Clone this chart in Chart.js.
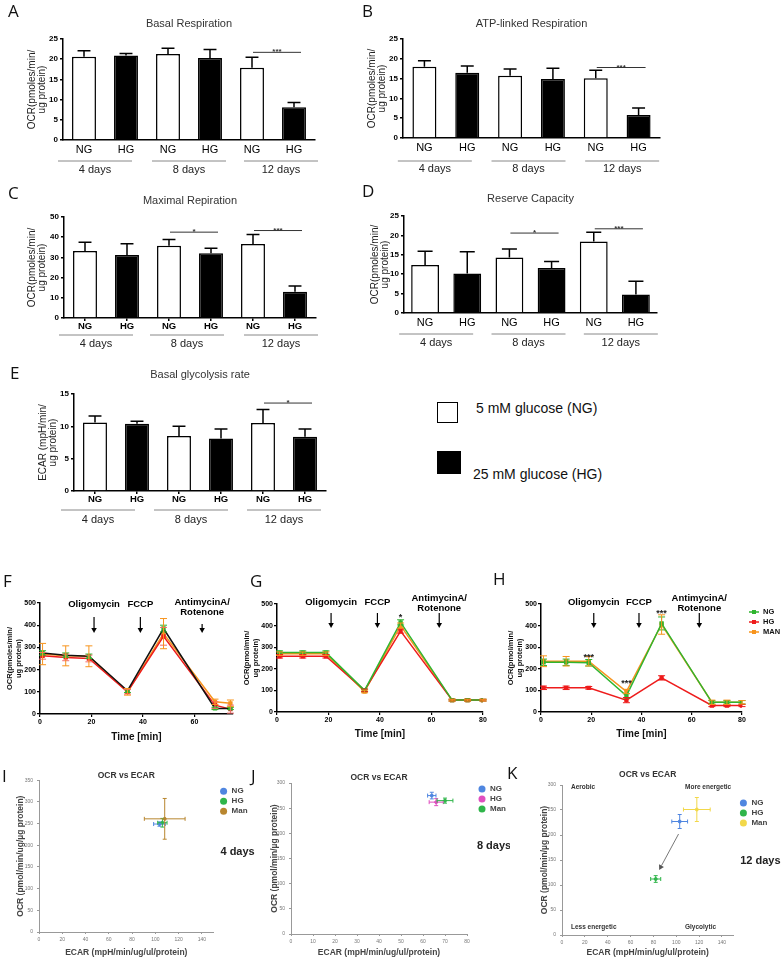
<!DOCTYPE html>
<html>
<head>
<meta charset="utf-8">
<script src="https://cdn.jsdelivr.net/npm/chart.js@4.4.1/dist/chart.umd.min.js"></script>
<style>
  body { margin: 0; background: #fff; }
  #page { position: relative; width: 783px; height: 961px; overflow: hidden; background: #fff; }
  canvas { position: absolute; }
  .tag { position: absolute; font-family: "Open Sans", sans-serif; font-size: 17px; line-height: 1; color: #111; }
  .key { position: absolute; font-family: "Liberation Sans", Arial, sans-serif; font-size: 14px; color: #111; white-space: nowrap; }
  .box { position: absolute; box-sizing: border-box; border: 1.5px solid #000; }
</style>
</head>
<body>
<div id="page">
  <canvas id="cA" width="350" height="180" style="left:0;top:0"></canvas>
  <canvas id="cB" width="433" height="180" style="left:350px;top:0"></canvas>
  <canvas id="cC" width="350" height="175" style="left:0;top:180px"></canvas>
  <canvas id="cD" width="433" height="175" style="left:350px;top:180px"></canvas>
  <canvas id="cE" width="350" height="180" style="left:0;top:355px"></canvas>
  <canvas id="cF" width="240" height="200" style="left:0;top:560px"></canvas>
  <canvas id="cG" width="260" height="200" style="left:240px;top:560px"></canvas>
  <canvas id="cH" width="283" height="200" style="left:500px;top:560px"></canvas>
  <canvas id="cI" width="268" height="201" style="left:0;top:760px"></canvas>
  <canvas id="cJ" width="260" height="201" style="left:250px;top:760px"></canvas>
  <canvas id="cK" width="273" height="201" style="left:510px;top:760px"></canvas>

  <div class="tag" style="left:8px;top:2px">A</div>
  <div class="tag" style="left:362px;top:2px">B</div>
  <div class="tag" style="left:8px;top:184px">C</div>
  <div class="tag" style="left:362px;top:182px">D</div>
  <div class="tag" style="left:10px;top:364px">E</div>
  <div class="tag" style="left:3px;top:572px">F</div>
  <div class="tag" style="left:250px;top:572px">G</div>
  <div class="tag" style="left:493px;top:570px">H</div>
  <div class="tag" style="left:2px;top:767px">I</div>
  <div class="tag" style="left:251px;top:767px">J</div>
  <div class="tag" style="left:507px;top:764px">K</div>

  <div class="box" style="left:437px;top:402px;width:21px;height:21px;background:#fff"></div>
  <div class="key" style="left:476px;top:400px">5 mM glucose (NG)</div>
  <div class="box" style="left:437px;top:451px;width:24px;height:23px;background:#000"></div>
  <div class="key" style="left:473px;top:466px">25 mM glucose (HG)</div>
</div>
<script>
'use strict';
const FONT = '"Liberation Sans", Arial, sans-serif';

// ---- A-E: bar panels ----
const barCats = ['NG', 'HG', 'NG', 'HG', 'NG', 'HG'];
const dayGroups = ['4 days', '8 days', '12 days'];
const basalResp = [20.6, 20.9, 21.3, 20.3, 17.9, 8.1];
const basalRespErr = [1.5, 0.5, 1.4, 2.1, 2.6, 1.2];
const atpResp = [18.0, 16.5, 15.7, 14.9, 15.1, 5.8];
const atpRespErr = [1.5, 1.7, 1.7, 2.7, 2.0, 1.8];
const maxResp = [33.2, 31.2, 35.8, 32.0, 36.6, 13.0];
const maxRespErr = [4.3, 5.6, 3.0, 2.5, 4.7, 2.8];
const reserveCap = [12.4, 10.2, 14.3, 11.6, 18.4, 4.8];
const reserveCapErr = [3.5, 5.6, 2.2, 1.7, 2.4, 3.4];
const glycoRate = [10.6, 10.4, 8.5, 8.1, 10.5, 8.4];
const glycoRateErr = [1.0, 0.4, 1.5, 1.5, 2.1, 1.2];
// significance: [bar, bar, level, stars]
const basalSig = [[4, 5, 21.7, '***']];
const atpSig = [[4, 5, 17.8, '***']];
const maxSig = [[2, 3, 42.5, '*'], [4, 5, 43.3, '***']];
const reserveSig = [[2, 3, 20.6, '*'], [4, 5, 21.7, '***']];
const glycoSig = [[4, 5, 13.6, '*']];

// ---- F-H: OCR time courses ----
const drugTimes = [21, 39, 63];
const drugNames = [['Oligomycin'], ['FCCP'], ['AntimycinA/', 'Rotenone']];
const fTime = [1, 10, 19, 34, 48, 68, 74];
const fNG = [275, 265, 260, 105, 385, 25, 25];
const fNGErr = [10, 10, 10, 8, 15, 5, 5];
const fHG = [262, 255, 250, 100, 350, 40, 22];
const fHGErr = [15, 15, 15, 10, 40, 15, 18];
const fMAN = [270, 262, 260, 100, 362, 55, 48];
const fMANErr = [48, 45, 47, 15, 68, 12, 15];
const gTime = [1, 10, 19, 34, 48, 68, 74, 80];
const gNG = [275, 275, 275, 100, 415, 55, 55, 55];
const gNGErr = [8, 8, 8, 6, 12, 4, 4, 4];
const gHG = [258, 258, 258, 100, 375, 55, 55, 55];
const gHGErr = [8, 8, 8, 6, 10, 4, 4, 4];
const gMAN = [270, 270, 270, 95, 400, 55, 55, 55];
const gMANErr = [8, 8, 8, 6, 12, 4, 4, 4];
const gStars = [[48, 450, '*']];
const hTime = [1, 10, 19, 34, 48, 68, 74, 80];
const hNG = [230, 230, 228, 75, 410, 45, 45, 45];
const hNGErr = [15, 15, 15, 10, 30, 8, 8, 8];
const hHG = [112, 112, 112, 55, 158, 30, 30, 30];
const hHGErr = [8, 8, 6, 12, 10, 5, 5, 5];
const hMAN = [235, 235, 235, 95, 405, 45, 45, 45];
const hMANErr = [25, 22, 22, 10, 45, 10, 10, 8];
const hStars = [[19, 268, '***'], [34, 145, '***'], [48, 468, '***']];

// ---- I-K: OCR vs ECAR (NG, HG, Man) ----
const scatterNames = ['NG', 'HG', 'Man'];
const day4Ecar = [103.5, 106, 108];
const day4EcarErr = [5, 4, 17.5];
const day4Ocr = [249, 252, 261];
const day4OcrErr = [5, 10, 47];
const day8Ecar = [64, 66, 70];
const day8EcarErr = [1.9, 3.2, 3.6];
const day8Ocr = [275, 262, 265];
const day8OcrErr = [6.6, 7, 5];
const day12Ecar = [103, 82, 118];
const day12EcarErr = [6.9, 4.4, 11.7];
const day12Ocr = [227, 112, 251];
const day12OcrErr = [14, 6.7, 24];
const day12Shift = [102, 202, 85, 130]; // arrow NG -> HG (ECAR, OCR)

const el = id => document.getElementById(id);

function arrowTo(ctx, x1, y1, x2, y2, head) {
  const a = Math.atan2(y2 - y1, x2 - x1);
  const bx = x2 - head * Math.cos(a), by = y2 - head * Math.sin(a);
  ctx.beginPath(); ctx.moveTo(x1, y1); ctx.lineTo(bx, by); ctx.stroke();
  ctx.beginPath();
  ctx.moveTo(x2, y2);
  ctx.lineTo(bx + head * 0.55 * Math.sin(a), by - head * 0.55 * Math.cos(a));
  ctx.lineTo(bx - head * 0.55 * Math.sin(a), by + head * 0.55 * Math.cos(a));
  ctx.closePath(); ctx.fill();
}

// error bars, significance bars and day groups under the bar panels
const barExtras = {
  id: 'barExtras',
  afterDatasetsDraw(chart, args, opts) {
    const {ctx} = chart;
    const ys = chart.scales.y;
    const ds = chart.data.datasets[0];
    const bars = chart.getDatasetMeta(0).data;
    ctx.save();
    ctx.strokeStyle = '#000';
    ctx.lineWidth = 1.5;
    bars.forEach((b, i) => {
      const top = ys.getPixelForValue(ds.data[i] + ds.err[i]);
      const hw = b.width * 0.27;
      ctx.beginPath();
      ctx.moveTo(b.x, b.y); ctx.lineTo(b.x, top);
      ctx.moveTo(b.x - hw, top); ctx.lineTo(b.x + hw, top);
      ctx.stroke();
    });
    ctx.lineWidth = 1;
    ctx.strokeStyle = '#333';
    ctx.fillStyle = '#333';
    ctx.font = 'bold 8px ' + FONT;
    ctx.textAlign = 'center';
    ctx.textBaseline = 'alphabetic';
    opts.sig.forEach(([a, b, v, s]) => {
      const x1 = bars[a].x + 1, x2 = bars[b].x + 7, y = ys.getPixelForValue(v);
      ctx.beginPath(); ctx.moveTo(x1, y); ctx.lineTo(x2, y); ctx.stroke();
      ctx.fillText(s, (x1 + x2) / 2, y + 2);
    });
    const base = chart.chartArea.bottom;
    ctx.strokeStyle = '#888';
    ctx.fillStyle = '#222';
    ctx.font = '11px ' + FONT;
    ctx.textBaseline = 'middle';
    dayGroups.forEach((d, g) => {
      const mid = (bars[2 * g].x + bars[2 * g + 1].x) / 2 + opts.shift[g];
      ctx.beginPath();
      ctx.moveTo(mid - 37, base + opts.lineOff);
      ctx.lineTo(mid + 37, base + opts.lineOff);
      ctx.stroke();
      ctx.fillText(d, mid, base + opts.daysOff);
    });
    ctx.restore();
  }
};

function barPanel(id, box, area, o) {
  const [cx, cy, cw, ch] = box;
  const L = area[0] - cx, T = area[1] - cy, R = area[2] - cx, B = area[3] - cy;
  const th = 11 * 1.2;
  const padTop = o.titleY - cy - th / 2;
  new Chart(el(id), {
    type: 'bar',
    data: {
      labels: barCats,
      datasets: [{
        data: o.values,
        err: o.err,
        backgroundColor: barCats.map(c => c === 'NG' ? '#fff' : '#000'),
        borderColor: '#000',
        borderWidth: 1.5,
        barPercentage: o.barPct,
        categoryPercentage: 1
      }]
    },
    options: {
      responsive: false, animation: false, events: [],
      layout: {padding: {left: 0, top: padTop, right: cw - R, bottom: 0}},
      plugins: {
        legend: {display: false},
        tooltip: {enabled: false},
        title: {
          display: true, text: o.title, fullSize: false, color: '#333',
          font: {family: FONT, size: 11, weight: 'normal', lineHeight: 1.2},
          padding: {top: 0, bottom: T - padTop - th}
        },
        barExtras: {sig: o.sig, shift: o.shift, lineOff: o.lineOff, daysOff: o.daysOff}
      },
      scales: {
        x: {
          grid: {display: o.xTicks, drawOnChartArea: false, drawTicks: o.xTicks, tickLength: 3, offset: false, color: '#000', lineWidth: 1.5},
          border: {display: true, color: '#000', width: 1.5},
          ticks: {color: '#000', padding: o.xPad, font: {family: FONT, size: o.xFont, weight: o.xBold ? 'bold' : 'normal'}},
          afterFit: s => { s.height = ch - B; }
        },
        y: {
          min: 0, max: o.max,
          ticks: {stepSize: o.step, color: '#000', padding: 2, font: {family: FONT, size: 8, weight: 'bold'}},
          grid: {drawOnChartArea: false, tickLength: 3, color: '#000', lineWidth: 1.5},
          border: {color: '#000', width: 1.5},
          title: {
            display: true, text: o.yTitle, color: '#222',
            font: {family: FONT, size: 10, lineHeight: 1.05},
            padding: {top: o.yTitleX - cx - 5.25, bottom: 0}
          },
          afterFit: s => { s.width = L; }
        }
      }
    },
    plugins: [barExtras]
  });
}

const ocrTitle = ['OCR(pmoles/min/', 'ug protein)'];
barPanel('cA', [0, 0, 350, 180], [63, 39, 315, 140], {
  title: 'Basal Respiration', titleY: 24, yTitle: ocrTitle, yTitleX: 32,
  values: basalResp, err: basalRespErr, sig: basalSig, max: 25, step: 5, barPct: 0.57,
  xFont: 11, xBold: false, xTicks: false, xPad: 3, shift: [-10, 0, 8], lineOff: 21, daysOff: 30
});
barPanel('cB', [350, 0, 433, 180], [403, 39, 660, 138], {
  title: 'ATP-linked Respiration', titleY: 24, yTitle: ocrTitle, yTitleX: 372,
  values: atpResp, err: atpRespErr, sig: atpSig, max: 25, step: 5, barPct: 0.56,
  xFont: 11, xBold: false, xTicks: false, xPad: 3, shift: [-11, -3, 5], lineOff: 23, daysOff: 31
});
barPanel('cC', [0, 180, 350, 175], [64, 217, 316, 318], {
  title: 'Maximal Repiration', titleY: 201, yTitle: ocrTitle, yTitleX: 32,
  values: maxResp, err: maxRespErr, sig: maxSig, max: 50, step: 10, barPct: 0.57,
  xFont: 9.5, xBold: true, xTicks: true, xPad: 0, shift: [-10, -3, 7], lineOff: 17, daysOff: 26
});
barPanel('cD', [350, 180, 433, 175], [404, 216, 657, 313], {
  title: 'Reserve Capacity', titleY: 199, yTitle: ocrTitle, yTitleX: 375,
  values: reserveCap, err: reserveCapErr, sig: reserveSig, max: 25, step: 5, barPct: 0.66,
  xFont: 11, xBold: false, xTicks: false, xPad: 3, shift: [-10, -2, 6], lineOff: 21, daysOff: 30
});
barPanel('cE', [0, 355, 350, 180], [74, 394, 326, 491], {
  title: 'Basal glycolysis rate', titleY: 375, yTitle: ['ECAR (mpH/min/', 'ug protein)'], yTitleX: 43,
  values: glycoRate, err: glycoRateErr, sig: glycoSig, max: 15, step: 5, barPct: 0.57,
  xFont: 9.5, xBold: true, xTicks: true, xPad: 0, shift: [-18, -9, 0], lineOff: 19, daysOff: 29
});

// error bars for line and scatter charts
const errorBars = {
  id: 'errorBars',
  afterDatasetsDraw(chart) {
    const {ctx} = chart;
    const {x, y} = chart.scales;
    chart.data.datasets.forEach(ds => {
      ctx.save();
      ctx.strokeStyle = ds.errColor || ds.borderColor;
      ctx.lineWidth = 1;
      ds.data.forEach((p, i) => {
        const px = x.getPixelForValue(p.x), py = y.getPixelForValue(p.y);
        const ye = Array.isArray(ds.yErr) ? ds.yErr[i] : ds.yErr;
        const xe = Array.isArray(ds.xErr) ? ds.xErr[i] : ds.xErr;
        const cap = ds.cap || 3;
        ctx.beginPath();
        if (ye) {
          const t = y.getPixelForValue(p.y + ye), b = y.getPixelForValue(p.y - ye);
          ctx.moveTo(px, t); ctx.lineTo(px, b);
          ctx.moveTo(px - cap, t); ctx.lineTo(px + cap, t);
          ctx.moveTo(px - cap, b); ctx.lineTo(px + cap, b);
        }
        if (xe) {
          const l = x.getPixelForValue(p.x - xe), r = x.getPixelForValue(p.x + xe);
          ctx.moveTo(l, py); ctx.lineTo(r, py);
          ctx.moveTo(l, py - cap); ctx.lineTo(l, py + cap);
          ctx.moveTo(r, py - cap); ctx.lineTo(r, py + cap);
        }
        ctx.stroke();
      });
      ctx.restore();
    });
  }
};

// drug injections, stars and legend for F-H
const lineNotes = {
  id: 'lineNotes',
  afterDraw(chart, args, o) {
    const {ctx, chartArea: ca} = chart;
    const {x, y} = chart.scales;
    ctx.save();
    ctx.fillStyle = '#000';
    ctx.strokeStyle = '#000';
    ctx.lineWidth = 1.2;
    ctx.font = 'bold 9.5px ' + FONT;
    ctx.textAlign = 'center';
    ctx.textBaseline = 'middle';
    drugTimes.forEach((t, i) => {
      const px = x.getPixelForValue(t);
      const names = drugNames[i];
      const ly = names.length > 1 ? o.twoLines : [o.oneLine];
      names.forEach((n, k) => ctx.fillText(n, px, ca.top + ly[k]));
      arrowTo(ctx, px, ca.top + o.arrows[i][0], px, ca.top + o.arrows[i][1], 5);
    });
    ctx.font = 'bold 9px ' + FONT;
    ctx.fillStyle = '#222';
    (o.stars || []).forEach(([t, v, s]) => ctx.fillText(s, x.getPixelForValue(t), y.getPixelForValue(v) + 3));
    if (o.legend) {
      ctx.textAlign = 'left';
      ctx.font = 'bold 7.5px ' + FONT;
      chart.data.datasets.forEach((ds, i) => {
        const lx = ca.right + o.legend.dx, ly = ca.top + o.legend.dy + i * o.legend.gap;
        ctx.strokeStyle = ds.pointBackgroundColor;
        ctx.fillStyle = ds.pointBackgroundColor;
        ctx.lineWidth = 1.5;
        ctx.beginPath(); ctx.moveTo(lx - 5, ly); ctx.lineTo(lx + 5, ly); ctx.stroke();
        ctx.fillRect(lx - 2, ly - 2, 4, 4);
        ctx.fillStyle = '#111';
        ctx.fillText(ds.label, lx + 9, ly);
      });
    }
    ctx.restore();
  }
};

const NG_GREEN = '#2fb52f', HG_RED = '#ee1c1c', MAN_ORANGE = '#f7941d';

function linePanel(id, box, area, o) {
  const [cx, cy, cw, ch] = box;
  const L = area[0] - cx, T = area[1] - cy, R = area[2] - cx, B = area[3] - cy;
  const axisFont = {family: FONT, size: 7, weight: 'bold'};
  new Chart(el(id), {
    type: 'line',
    data: {
      datasets: o.series.map(s => ({
        label: s.name,
        data: o.time.map((t, i) => ({x: t, y: s.values[i]})),
        yErr: s.err,
        errColor: s.errColor || s.color,
        borderColor: s.line || s.color,
        backgroundColor: s.color,
        pointBackgroundColor: s.color,
        pointBorderColor: s.color,
        pointStyle: 'rect',
        pointRadius: 2,
        borderWidth: 1.5,
        cap: 3.5
      }))
    },
    options: {
      responsive: false, animation: false, events: [],
      layout: {padding: {left: 0, top: T, right: cw - R, bottom: 0}},
      plugins: {legend: {display: false}, tooltip: {enabled: false}, lineNotes: o.notes},
      scales: {
        x: {
          type: 'linear', min: 0, max: o.xMax,
          ticks: {stepSize: 20, includeBounds: false, color: '#000', padding: 1, font: axisFont},
          grid: {drawOnChartArea: false, tickLength: 3, color: '#000', lineWidth: 1.2},
          border: {color: '#000', width: 1.5},
          title: {
            display: true, text: 'Time [min]', color: '#111',
            font: {family: FONT, size: 10, weight: 'bold', lineHeight: 1.2},
            padding: {top: 0, bottom: (cy + ch) - o.xTitleY - 6}
          },
          afterFit: s => { s.height = ch - B; }
        },
        y: {
          min: 0, max: 500,
          ticks: {stepSize: 100, color: '#000', padding: 1, font: axisFont},
          grid: {drawOnChartArea: false, tickLength: 3, color: '#000', lineWidth: 1.2},
          border: {color: '#000', width: 1.5},
          title: {
            display: true, text: o.yTitle, color: '#111',
            font: {family: FONT, size: 7.5, weight: 'bold', lineHeight: 1.15},
            padding: {top: o.yTitleX - cx - 4.3, bottom: 0}
          },
          afterFit: s => { s.width = L; }
        }
      }
    },
    plugins: [errorBars, lineNotes]
  });
}

linePanel('cF', [0, 560, 240, 200], [40, 603, 233, 714], {
  time: fTime, xMax: 75, xTitleY: 737, yTitle: ['OCR(pmoles/min/', 'ug protein)'], yTitleX: 10,
  series: [
    {name: 'NG', values: fNG, err: fNGErr, color: NG_GREEN, line: '#111'},
    {name: 'HG', values: fHG, err: fHGErr, color: HG_RED, errColor: '#f26a6a'},
    {name: 'MAN', values: fMAN, err: fMANErr, color: MAN_ORANGE}
  ],
  notes: {oneLine: 1, twoLines: [-1, 9], arrows: [[14, 30], [14, 30], [21, 30]]}
});
linePanel('cG', [240, 560, 260, 200], [277, 604, 483, 712], {
  time: gTime, xMax: 80, xTitleY: 734, yTitle: ['OCR(pmol/min/', 'ug protein)'], yTitleX: 247,
  series: [
    {name: 'NG', values: gNG, err: gNGErr, color: NG_GREEN},
    {name: 'HG', values: gHG, err: gHGErr, color: HG_RED},
    {name: 'MAN', values: gMAN, err: gMANErr, color: MAN_ORANGE}
  ],
  notes: {oneLine: -2, twoLines: [-6, 4], arrows: [[9, 24], [9, 24], [9, 24]], stars: gStars}
});
linePanel('cH', [500, 560, 283, 200], [541, 604, 742, 712], {
  time: hTime, xMax: 80, xTitleY: 734, yTitle: ['OCR(pmol/min/', 'ug protein)'], yTitleX: 511,
  series: [
    {name: 'NG', values: hNG, err: hNGErr, color: NG_GREEN},
    {name: 'HG', values: hHG, err: hHGErr, color: HG_RED},
    {name: 'MAN', values: hMAN, err: hMANErr, color: MAN_ORANGE}
  ],
  notes: {oneLine: -2, twoLines: [-6, 4], arrows: [[9, 24], [9, 24], [9, 24]], stars: hStars,
    legend: {dx: 12, dy: 8, gap: 10}}
});

// legend, day label, quadrants and arrow for I-K
const scatterNotes = {
  id: 'scatterNotes',
  afterDraw(chart, args, o) {
    const {ctx, chartArea: ca} = chart;
    const {x, y} = chart.scales;
    ctx.save();
    ctx.textBaseline = 'middle';
    ctx.textAlign = 'left';
    ctx.font = 'bold 8px ' + FONT;
    chart.data.datasets.forEach((ds, i) => {
      const lx = ca.right + o.legend[0], ly = ca.top + o.legend[1] + i * 10;
      ctx.fillStyle = ds.backgroundColor;
      ctx.beginPath(); ctx.arc(lx, ly, 3.5, 0, Math.PI * 2); ctx.fill();
      ctx.fillStyle = '#444';
      ctx.fillText(ds.label, lx + 8, ly);
    });
    ctx.fillStyle = '#222';
    ctx.textAlign = 'center';
    ctx.font = 'bold 11px ' + FONT;
    ctx.fillText(o.days, ca.right + o.daysAt[0], ca.top + o.daysAt[1]);
    if (o.quadrants) {
      ctx.font = 'bold 6.5px ' + FONT;
      ctx.textAlign = 'left';
      ctx.fillStyle = '#333';
      ctx.fillText('Aerobic', ca.left + 9, ca.top + 2);
      ctx.fillText('More energetic', ca.left + 123, ca.top + 2);
      ctx.fillText('Less energetic', ca.left + 9, ca.bottom - 8);
      ctx.fillText('Glycolytic', ca.left + 123, ca.bottom - 8);
    }
    if (o.shift) {
      const [x1, y1, x2, y2] = o.shift;
      ctx.strokeStyle = '#555';
      ctx.fillStyle = '#555';
      ctx.lineWidth = 0.8;
      arrowTo(ctx, x.getPixelForValue(x1), y.getPixelForValue(y1), x.getPixelForValue(x2), y.getPixelForValue(y2), 5);
    }
    ctx.restore();
  }
};

function scatterPanel(id, box, area, o) {
  const [cx, cy, cw, ch] = box;
  const L = area[0] - cx, T = area[1] - cy, R = area[2] - cx, B = area[3] - cy;
  const th = 8.5;
  const padTop = o.titleY - cy - th / 2;
  const tickFont = {family: FONT, size: 5};
  const titleFont = {family: FONT, size: 8.5, weight: 'bold', lineHeight: 1.2};
  new Chart(el(id), {
    type: 'scatter',
    data: {
      datasets: scatterNames.map((n, i) => ({
        label: n,
        data: [{x: o.ecar[i], y: o.ocr[i]}],
        xErr: o.ecarErr[i], yErr: o.ocrErr[i],
        backgroundColor: o.colors[i], borderColor: o.colors[i],
        pointRadius: 1.5, cap: 2
      }))
    },
    options: {
      responsive: false, animation: false, events: [],
      layout: {padding: {left: 0, top: padTop, right: cw - R, bottom: 0}},
      plugins: {
        legend: {display: false}, tooltip: {enabled: false},
        title: {
          display: true, text: 'OCR vs ECAR', fullSize: false, color: '#333',
          font: {family: FONT, size: 8.5, weight: 'bold', lineHeight: 1},
          padding: {top: 0, bottom: Math.max(0, T - padTop - th)}
        },
        scatterNotes: o.notes
      },
      scales: {
        x: {
          type: 'linear', min: 0, max: o.xMax,
          ticks: {stepSize: o.xStep, includeBounds: false, color: '#777', padding: 3, font: tickFont, maxRotation: 0},
          grid: {drawOnChartArea: false, tickLength: 2, color: '#999'},
          border: {color: '#999', width: 1},
          title: {display: true, text: 'ECAR (mpH/min/ug/ul/protein)', color: '#444', font: titleFont,
            padding: {top: 0, bottom: (cy + ch) - o.xTitleY - 5.1}},
          afterFit: s => { s.height = ch - B; }
        },
        y: {
          min: 0, max: o.yMax,
          ticks: {stepSize: 50, color: '#777', padding: 4, font: tickFont},
          grid: {drawOnChartArea: false, tickLength: 2, color: '#999'},
          border: {color: '#999', width: 1},
          title: {display: true, text: o.yTitle, color: '#444', font: titleFont,
            padding: {top: o.yTitleX - cx - 5.1, bottom: 0}},
          afterFit: s => { s.width = L; }
        }
      }
    },
    plugins: [errorBars, scatterNotes]
  });
}

scatterPanel('cI', [0, 760, 268, 201], [39, 780, 213.6, 932], {
  ecar: day4Ecar, ecarErr: day4EcarErr, ocr: day4Ocr, ocrErr: day4OcrErr,
  colors: ['#4f86e0', '#2fb54a', '#b8862f'], xMax: 150, xStep: 20, yMax: 350,
  titleY: 776, xTitleY: 953, yTitleX: 21, yTitle: 'OCR (pmol/min/ug/µg protein)',
  notes: {legend: [10, 11], days: '4 days', daysAt: [24, 72]}
});
scatterPanel('cJ', [250, 760, 260, 201], [291, 783, 467, 934], {
  ecar: day8Ecar, ecarErr: day8EcarErr, ocr: day8Ocr, ocrErr: day8OcrErr,
  colors: ['#4f86e0', '#e04fc0', '#2fb54a'], xMax: 80, xStep: 10, yMax: 300,
  titleY: 778, xTitleY: 953, yTitleX: 275, yTitle: 'OCR (pmol/min/µg protein)',
  notes: {legend: [15, 6], days: '8 days', daysAt: [27, 63]}
});
scatterPanel('cK', [510, 760, 273, 201], [562, 785, 733.4, 935], {
  ecar: day12Ecar, ecarErr: day12EcarErr, ocr: day12Ocr, ocrErr: day12OcrErr,
  colors: ['#4f86e0', '#2fb54a', '#f2d84a'], xMax: 150, xStep: 20, yMax: 300,
  titleY: 775, xTitleY: 953, yTitleX: 545, yTitle: 'OCR (pmol/min/µg protein)',
  notes: {legend: [10, 18], days: '12 days', daysAt: [27, 76], quadrants: true, shift: day12Shift}
});
</script>
</body>
</html>
